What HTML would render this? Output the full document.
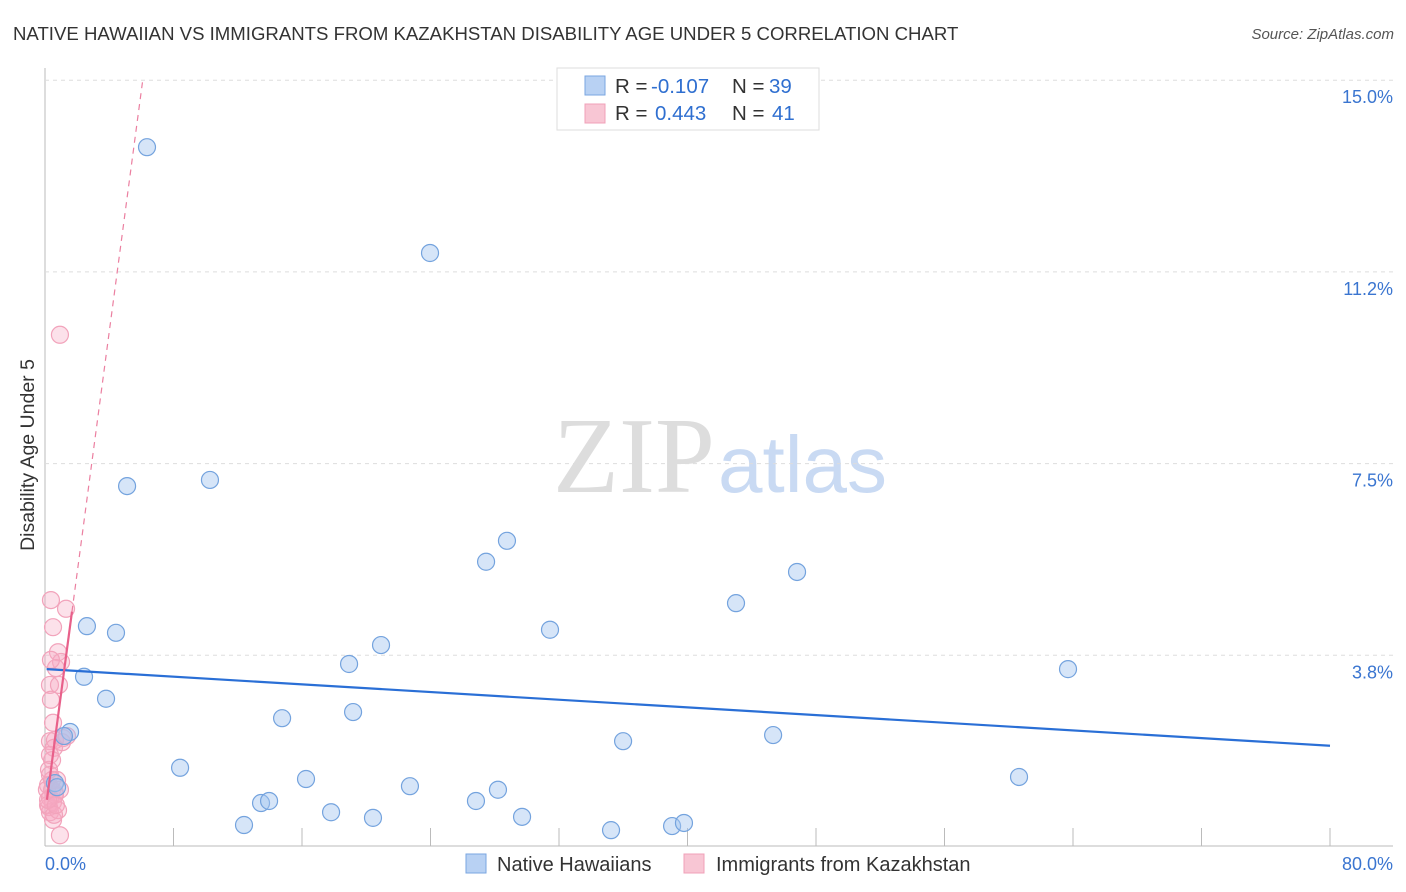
<!DOCTYPE html>
<html><head><meta charset="utf-8"><style>
body{margin:0;background:#fff;font-family:"Liberation Sans",sans-serif}
svg{display:block}
</style></head><body>
<svg id="c" width="1406" height="892">
<text x="13" y="40" font-size="18.6" fill="#333">NATIVE HAWAIIAN VS IMMIGRANTS FROM KAZAKHSTAN DISABILITY AGE UNDER 5 CORRELATION CHART</text>
<text x="1394" y="39" font-size="15" fill="#555" font-style="italic" text-anchor="end">Source: ZipAtlas.com</text>
<text x="553" y="492" font-size="108" fill="#ddd" font-family="Liberation Serif,serif">ZIP</text>
<text x="718" y="492" font-size="80" fill="#c9daf3">atlas</text>
<text transform="translate(34,455) rotate(-90)" font-size="19.5" fill="#333" text-anchor="middle">Disability Age Under 5</text>
<g id="grid"></g><g id="pts"></g><g id="lines"></g>
<g>
<rect x="557" y="68" width="262" height="62" fill="#fff" stroke="#ddd"/>
<rect x="585" y="76" width="20" height="19" fill="#b8d1f3" stroke="#7aa6e0"/>
<rect x="585" y="104" width="20" height="19" fill="#f8c6d4" stroke="#f0a0b8"/>
<text x="615" y="93" font-size="20.5" fill="#333">R = <tspan x="651" fill="#2f6fd0">-0.107</tspan><tspan x="732">N = </tspan><tspan x="769" fill="#2f6fd0">39</tspan></text>
<text x="615" y="120" font-size="20.5" fill="#333">R = <tspan x="655" fill="#2f6fd0">0.443</tspan><tspan x="732">N = </tspan><tspan x="772" fill="#2f6fd0">41</tspan></text>
</g>
<g>
<rect x="466" y="854" width="20" height="19" fill="#b8d1f3" stroke="#7aa6e0"/>
<text x="497" y="871" font-size="20" fill="#333">Native Hawaiians</text>
<rect x="684" y="854" width="20" height="19" fill="#f8c6d4" stroke="#f0a0b8"/>
<text x="716" y="871" font-size="20" fill="#333">Immigrants from Kazakhstan</text>
</g>
<text x="45" y="870" font-size="18" fill="#3a75d0">0.0%</text>
<text x="1393" y="870" font-size="18" fill="#3a75d0" text-anchor="end">80.0%</text>
</svg>
<script>
const yTicks=[15,11.25,7.5,3.75];
const yTickLabels=["15.0%","11.2%","7.5%","3.8%"];
const blueX=[6.35,23.97,5.11,10.27,28.76,27.46,46.82,43.02,2.61,4.42,31.44,20.92,18.93,63.69,2.43,3.80,14.76,19.18,35.99,45.33,1.56,1.18,8.41,16.25,60.64,22.72,28.20,13.45,13.95,26.83,17.81,20.42,29.70,12.39,35.24,39.04,39.78,0.62,0.75];
const blueY=[13.69,11.62,7.06,7.18,5.99,5.58,5.38,4.77,4.32,4.19,4.25,3.95,3.58,3.48,3.33,2.90,2.52,2.64,2.07,2.19,2.25,2.17,1.55,1.33,1.37,1.19,1.12,0.86,0.90,0.90,0.68,0.57,0.59,0.43,0.33,0.41,0.47,1.25,1.17];
const pinkX=[0.37,1.31,0.50,0.81,1.00,0.68,0.31,0.87,0.50,0.31,0.62,1.12,1.37,0.56,0.44,0.31,0.19,0.44,0.62,0.31,0.50,0.25,0.31,0.19,0.50,0.93,0.93,0.75,1.06,0.37,0.25,0.62,0.81,0.12,0.44,0.56,0.19,0.68,0.31,0.93,0.37];
const pinkY=[4.83,4.66,4.30,3.81,3.62,3.50,3.17,3.17,2.43,2.07,2.09,2.13,2.17,1.94,1.70,1.41,1.21,1.12,1.06,0.96,0.88,0.78,0.68,0.82,0.53,0.23,10.02,1.31,2.05,2.88,1.51,1.02,0.72,1.12,1.31,0.63,0.92,0.82,1.80,1.12,3.66];
const blueTrend=[3.48,1.98];
const pinkTrend=[0.64,2.36];
const NS="http://www.w3.org/2000/svg";
const X=v=>45+v/80*1285, Y=v=>847-v/3.75*191.7;
function mk(p,t,a){const e=document.createElementNS(NS,t);for(const k in a)e.setAttribute(k,a[k]);p.appendChild(e);return e;}
const grid=document.getElementById('grid');
let ax=mk(grid,'line',{x1:45,y1:68,x2:45,y2:846,stroke:'#bbb'});


let bx=mk(grid,'line',{x1:45,y1:846,x2:1393,y2:846,stroke:'#bbb'});


yTicks.forEach((t,i)=>{
 const g=mk(grid,'line',{x1:45,x2:1393,y1:Y(t),y2:Y(t),stroke:'#ddd','stroke-dasharray':'4,4'});
 
 
 const l=mk(grid,'text',{x:1393,y:Y(t)+23,'font-size':18,fill:'#3a75d0','text-anchor':'end'});
 l.textContent=yTickLabels[i];
 
 
});
for(let i=1;i<=10;i++){
 const t=mk(grid,'line',{x1:X(i*8),x2:X(i*8),y1:828,y2:846,stroke:'#bbb'});
 
 
}
const pts=document.getElementById('pts');
pinkX.forEach((x,i)=>{const c=mk(pts,'circle',{cx:X(x),cy:Y(pinkY[i]),r:8.5,fill:'rgba(246,170,195,0.35)',stroke:'#f2a3bb','stroke-width':1.2});
 
 });
blueX.forEach((x,i)=>{const c=mk(pts,'circle',{cx:X(x),cy:Y(blueY[i]),r:8.5,fill:'rgba(165,198,240,0.45)',stroke:'#74a3de','stroke-width':1.2});
 
 });
const lines=document.getElementById('lines');
let bl=mk(lines,'line',{x1:X(0.1),y1:Y(blueTrend[0]),x2:X(80),y2:Y(blueTrend[1]),stroke:'#2a6fd6','stroke-width':2.2});


const pe=(15-pinkTrend[0])/pinkTrend[1];
let pd=mk(lines,'line',{x1:X(1.68),y1:Y(pinkTrend[0]+pinkTrend[1]*1.68),x2:X(pe),y2:Y(15),stroke:'#eb7fa0','stroke-width':1.2,'stroke-dasharray':'6,5'});


let ps=mk(lines,'line',{x1:X(0.12),y1:Y(pinkTrend[0]+pinkTrend[1]*0.12),x2:X(1.68),y2:Y(pinkTrend[0]+pinkTrend[1]*1.68),stroke:'#e8608a','stroke-width':2.2});


</script>
</body></html>
